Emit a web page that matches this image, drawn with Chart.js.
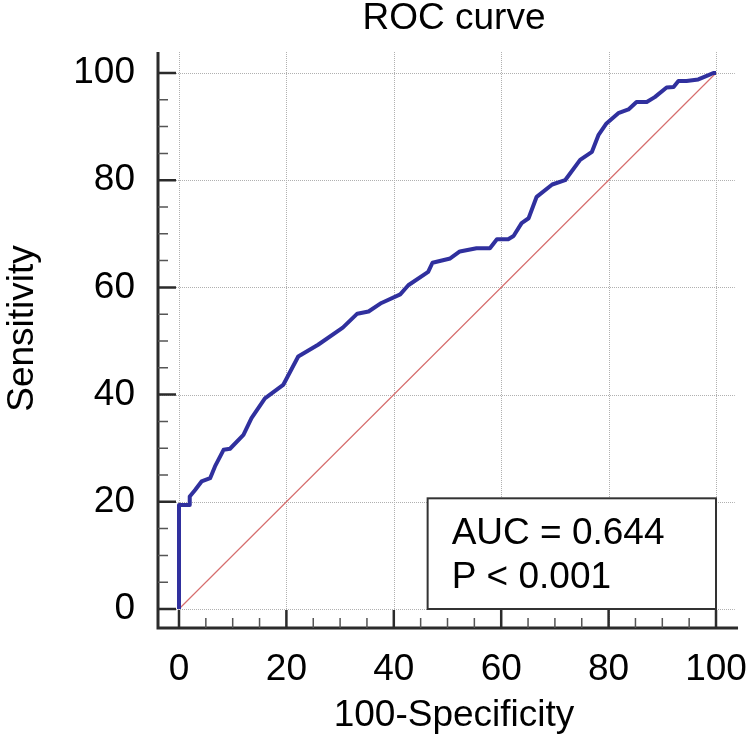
<!DOCTYPE html>
<html>
<head>
<meta charset="utf-8">
<title>ROC curve</title>
<script src="https://cdn.jsdelivr.net/npm/chart.js@4.4.1/dist/chart.umd.min.js"></script>
<style>
  html, body { margin: 0; padding: 0; background: #fff; }
  #wrap { position: relative; width: 750px; height: 742px; }
</style>
</head>
<body>
<div id="wrap"><canvas id="rocChart"></canvas></div>
<script>
// ROC points: x = 100-Specificity, y = Sensitivity
const fprValues = [0, 0, 1.9, 2.0, 3.0, 4.2, 5.8, 6.7, 8.3, 9.5, 12.0, 13.5, 16.0, 19.4,
    22.2, 25.9, 30.5, 33.2, 35.3, 37.7, 41.2, 42.7, 46.4, 47.2, 50.5, 52.3, 55.4, 57.9,
    59.2, 61.3, 62.3, 63.8, 65.1, 66.6, 69.5, 71.9, 74.7, 76.9, 78.1, 79.6, 81.8, 83.7,
    85.2, 87.1, 88.6, 90.8, 92.1, 93.0, 94.5, 96.7, 98.6, 99.5, 100];
const tprValues = [0, 19.4, 19.4, 21.0, 22.2, 23.8, 24.4, 26.6, 29.7, 29.9, 32.5, 35.6, 39.3, 41.8,
    47.1, 49.3, 52.5, 55.1, 55.5, 57.1, 58.7, 60.4, 62.9, 64.6, 65.4, 66.7, 67.3, 67.3,
    69.0, 69.0, 69.6, 72.0, 72.9, 76.9, 79.2, 80.0, 83.8, 85.3, 88.4, 90.6, 92.5, 93.2,
    94.6, 94.6, 95.5, 97.3, 97.4, 98.5, 98.5, 98.8, 99.6, 100, 100];

// chance line
const refLineX = [0, 100];
const refLineY = [0, 100];

const majorTicks = [0, 20, 40, 60, 80, 100];
const minorTicks = [5, 10, 15, 25, 30, 35, 45, 50, 55, 65, 70, 75, 85, 90, 95];

const chartTitle = 'ROC curve';
const xTitle = '100-Specificity';
const yTitle = 'Sensitivity';
const statLines = ['AUC = 0.644', 'P < 0.001'];

// ranges a bit past 0..100 so the axes stand off the plot
const X_MIN = -3.91, X_MAX = 106.33, X_AXIS_END = 104.1, X_GRID_END = 103.5;
const Y_MIN = -3.545, Y_MAX = 103.92;
const BOX_X = [46.3, 100];
const BOX_Y = [0, 20.65];

const FONT = "'Liberation Sans', Arial, sans-serif";
Chart.defaults.font.family = FONT;

function toPoints(xs, ys) {
    return xs.map((v, i) => ({ x: v, y: ys[i] }));
}

const axisDecor = {
    id: 'axisDecor',
    beforeDatasetsDraw(chart) {
        const { ctx, chartArea, scales: { x, y } } = chart;
        ctx.save();
        ctx.strokeStyle = '#b0b0b0';
        ctx.lineWidth = 1;
        ctx.setLineDash([1, 1]);
        majorTicks.forEach(v => {
            const px = Math.round(x.getPixelForValue(v)) + 0.5;
            ctx.beginPath();
            ctx.moveTo(px, chartArea.top);
            ctx.lineTo(px, chartArea.bottom);
            ctx.stroke();

            const py = Math.round(y.getPixelForValue(v)) + 0.5;
            ctx.beginPath();
            ctx.moveTo(chartArea.left, py);
            ctx.lineTo(x.getPixelForValue(X_GRID_END), py);
            ctx.stroke();
        });
        ctx.restore();
    },
    afterDatasetsDraw(chart) {
        const { ctx, chartArea, scales: { x, y } } = chart;
        const left = chartArea.left, bottom = chartArea.bottom;
        ctx.save();

        // stats box
        const bx0 = x.getPixelForValue(BOX_X[0]), bx1 = x.getPixelForValue(BOX_X[1]);
        const by0 = y.getPixelForValue(BOX_Y[1]), by1 = y.getPixelForValue(BOX_Y[0]);
        ctx.fillStyle = '#fff';
        ctx.fillRect(bx0, by0, bx1 - bx0, by1 - by0);
        ctx.strokeStyle = '#333';
        ctx.lineWidth = 2;
        ctx.strokeRect(bx0, by0, bx1 - bx0, by1 - by0);
        ctx.fillStyle = '#000';
        ctx.font = '37px ' + FONT;
        ctx.textBaseline = 'alphabetic';
        ctx.textAlign = 'left';
        statLines.forEach((t, i) => ctx.fillText(t, bx0 + 24, by0 + 46 + i * 44));

        // axis lines
        ctx.strokeStyle = '#2b2b2b';
        ctx.lineWidth = 3;
        ctx.beginPath();
        ctx.moveTo(left, chartArea.top);
        ctx.lineTo(left, bottom + 1.5);
        ctx.moveTo(left - 1.5, bottom);
        ctx.lineTo(x.getPixelForValue(X_AXIS_END), bottom);
        ctx.stroke();

        // inward ticks
        const drawTicks = (vals, len, width) => {
            ctx.lineWidth = width;
            ctx.beginPath();
            vals.forEach(v => {
                const px = x.getPixelForValue(v);
                ctx.moveTo(px, bottom);
                ctx.lineTo(px, bottom - len);
                const py = y.getPixelForValue(v);
                ctx.moveTo(left, py);
                ctx.lineTo(left + len, py);
            });
            ctx.stroke();
        };
        drawTicks(majorTicks, 18, 2.5);
        ctx.strokeStyle = '#555';
        drawTicks(minorTicks, 10, 1.5);

        // y axis title
        ctx.fillStyle = '#000';
        ctx.font = '37px ' + FONT;
        ctx.textAlign = 'center';
        ctx.textBaseline = 'middle';
        ctx.translate(23, 328.5);
        ctx.rotate(-Math.PI / 2);
        ctx.fillText(yTitle, 0, 0);
        ctx.restore();
    }
};

new Chart(document.getElementById('rocChart'), {
    type: 'scatter',
    data: {
        datasets: [{
            label: 'ROC',
            data: toPoints(fprValues, tprValues),
            showLine: true,
            borderColor: 'rgb(48, 48, 158)',
            borderWidth: 4,
            borderJoinStyle: 'round',
            pointRadius: 0,
            tension: 0,
            order: 0
        }, {
            label: 'Reference',
            data: toPoints(refLineX, refLineY),
            showLine: true,
            borderColor: 'rgb(214, 110, 110)',
            borderWidth: 1.2,
            pointRadius: 0,
            order: 1
        }]
    },
    options: {
        responsive: true,
        maintainAspectRatio: false,
        animation: false,
        layout: { padding: 0 },
        plugins: {
            legend: { display: false },
            tooltip: { enabled: false },
            title: {
                display: true,
                text: chartTitle,
                fullSize: false,
                color: '#000',
                font: { size: 37, weight: 'normal', lineHeight: 1 },
                padding: { top: 0, bottom: 15 }
            }
        },
        scales: {
            x: {
                type: 'linear',
                min: X_MIN,
                max: X_MAX,
                afterBuildTicks: (s) => { s.ticks = majorTicks.map(v => ({ value: v })); },
                afterFit: (s) => {
                    s.height = 114;
                    // labels fit inside the canvas, no extra side padding
                    s.paddingLeft = 0;
                    s.paddingRight = 0;
                },
                grid: { display: false },
                border: { display: false },
                ticks: { color: '#000', padding: 12, maxRotation: 0, autoSkip: false, font: { size: 37 } },
                title: {
                    display: true,
                    text: xTitle,
                    color: '#000',
                    font: { size: 37, lineHeight: 1 },
                    padding: { top: 0, bottom: 8 }
                }
            },
            y: {
                type: 'linear',
                min: Y_MIN,
                max: Y_MAX,
                afterBuildTicks: (s) => { s.ticks = majorTicks.map(v => ({ value: v })); },
                afterFit: (s) => { s.width = 158; },
                grid: { display: false },
                border: { display: false },
                ticks: { color: '#000', padding: 15, autoSkip: false, font: { size: 37 } }
            }
        }
    },
    plugins: [axisDecor]
});
</script>
</body>
</html>
